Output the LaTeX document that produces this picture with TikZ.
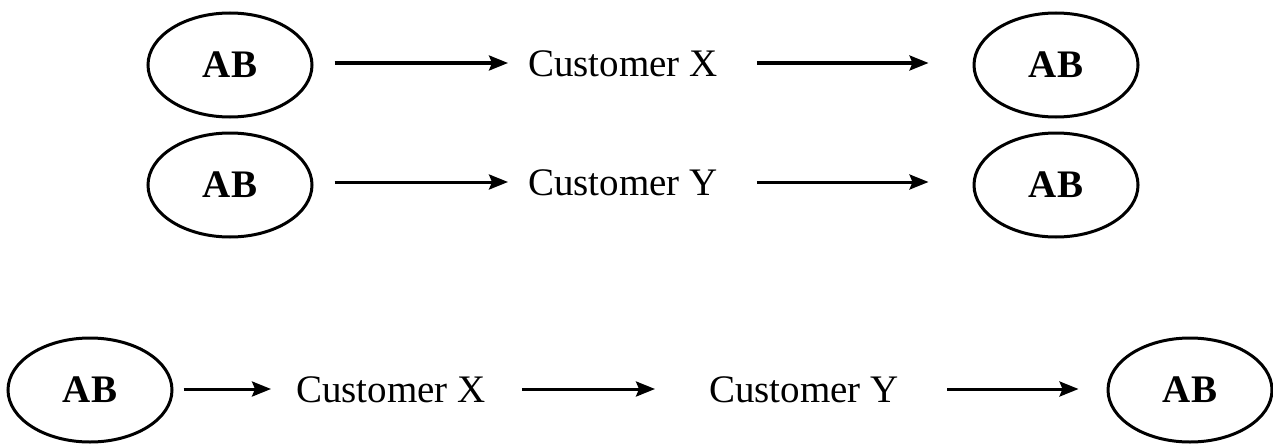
\documentclass[tikz,border=0pt]{standalone}
\usepackage{fontspec}
\setmainfont{Liberation Serif}
\usetikzlibrary{shapes.geometric,arrows.meta}
\begin{document}
\begin{tikzpicture}[x=1pt,y=-1pt,
  abnode/.style={ellipse,draw,line width=3pt,minimum width=164pt,minimum height=104pt,inner sep=0pt,
    font=\fontsize{39}{47}\selectfont\bfseries},
  cust/.style={inner sep=0pt,text height=26pt,text depth=0pt,font=\fontsize{39}{47}\selectfont},
  conn/.style={line width=3pt,-{Stealth[length=19pt,width=15pt,inset=3pt]}}]
\useasboundingbox (0,0) rectangle (1273,444);
% row 1
\node[abnode] (a1) at (230,65) {AB};
\node[cust] (cx1) at (623,63) {Customer X};
\node[abnode] (b1) at (1056,65) {AB};
% row 2
\node[abnode] (a2) at (230,185) {AB};
\node[cust] (cy2) at (623,182) {Customer Y};
\node[abnode] (b2) at (1056,185) {AB};
% row 3
\node[abnode] (a3) at (90,390) {AB};
\node[cust] (cx3) at (391,389) {Customer X};
\node[cust] (cy3) at (804,389) {Customer Y};
\node[abnode] (b3) at (1190,390) {AB};
% connectors
\draw[conn,shorten <=21pt,shorten >=20pt] (a1.east |- cx1) -- (cx1.west);
\draw[conn,shorten <=39pt,shorten >=44pt] (cx1.east) -- (b1.west |- cx1);
\draw[conn,shorten <=21pt,shorten >=20pt] (a2.east |- cy2) -- (cy2.west);
\draw[conn,shorten <=39pt,shorten >=44pt] (cy2.east) -- (b2.west |- cy2);
\draw[conn,shorten <=10pt,shorten >=25pt] (a3.east |- cx3) -- (cx3.west);
\draw[conn,shorten <=36pt,shorten >=54pt] (cx3.east) -- (cy3.west);
\draw[conn,shorten <=48pt,shorten >=28pt] (cy3.east) -- (b3.west |- cy3);
\end{tikzpicture}
\end{document}
